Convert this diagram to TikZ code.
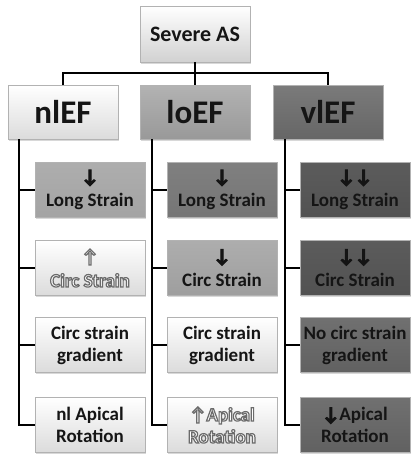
\documentclass[tikz,border=0pt]{standalone}
\usepackage{fontspec}
\setmainfont{Carlito}[BoldFont={Carlito Bold}]
\usetikzlibrary{shadows}
\definecolor{txtc}{HTML}{151515}
\newcommand\outl[1]{\special{pdf:literal direct 2 Tr 1.2 w 0.42 0.42 0.42 RG}#1\special{pdf:literal direct 0 Tr}}
\newcommand\thick[1]{\special{pdf:literal direct 2 Tr 0.9 w 0.08 0.08 0.08 RG}#1\special{pdf:literal direct 0 Tr}}
\newcommand\arr[1]{{\fontsize{19}{19}\selectfont\thick{#1}}\\[2pt]}
\newcommand\arro[1]{{\fontsize{19}{19}\selectfont\outl{#1}}\\[2pt]}
\begin{document}
\begin{tikzpicture}[x=1pt,y=-1pt,
  box/.style={rectangle, minimum width=110pt, minimum height=55pt, inner sep=0pt,
    align=center, text=txtc, font=\bfseries\fontsize{19}{22}\selectfont,
    draw=black!30, line width=0.6pt,
    drop shadow={shadow xshift=1.2pt, shadow yshift=-1.6pt, opacity=0.3}},
  head/.style={box, minimum height=54pt, font=\bfseries\fontsize{33}{36}\selectfont},
  g/.style 2 args={top color=#1, bottom color=#2},
  conn/.style={draw=black, line width=1.5pt}]
\useasboundingbox[fill=white] (0,0) rectangle (416,463);

% top
\node[box, minimum height=56pt, font=\bfseries\fontsize{22}{24}\selectfont, g={white}{black!18}] (sev) at (195,34) {Severe AS};
\node[head, g={white}{black!14}] (nl) at (63,112) {nlEF};
\node[head, g={black!30}{black!40}] (lo) at (195,112) {loEF};
\node[head, g={black!52}{black!60}] (vl) at (328,112) {vlEF};

\coordinate (bar) at (195,73);
\draw[conn] (sev.south) -- (lo.north);
\draw[conn] (nl.north) |- (bar) -| (vl.north);

% column 1
\node[box, g={black!32}{black!36}] (a1) at (90,190) {\arr{↓}Long Strain};
\node[box, g={white}{black!14}, text=white] (a2) at (90,268) {\arro{↑}\outl{Circ Strain}};
\node[box, g={white}{black!14}] (a3) at (90,345) {Circ strain\\gradient};
\node[box, g={white}{black!14}] (a4) at (90,425) {nl Apical\\Rotation};

% column 2
\node[box, g={black!50}{black!54}] (b1) at (222,190) {\arr{↓}Long Strain};
\node[box, g={black!32}{black!38}] (b2) at (222,268) {\arr{↓}Circ Strain};
\node[box, g={white}{black!14}] (b3) at (222,345) {Circ strain\\gradient};
\node[box, g={white}{black!14}, text=white] (b4) at (222,425) {\outl{↑Apical}\\\outl{Rotation}};

% column 3
\node[box, g={black!64}{black!68}] (c1) at (355,190) {\arr{↓↓}Long Strain};
\node[box, g={black!64}{black!68}] (c2) at (355,268) {\arr{↓↓}Circ Strain};
\node[box, g={black!56}{black!62}] (c3) at (355,345) {No circ strain\\gradient};
\node[box, g={black!56}{black!62}] (c4) at (355,425) {\thick{↓}Apical\\Rotation};

% vertical spines
\coordinate (v1) at (19,0);
\coordinate (v2) at (152,0);
\coordinate (v3) at (285,0);
\draw[conn] (nl.south -| v1) |- (a4.west);
\draw[conn] (a1.west) -- (a1.west -| v1);
\draw[conn] (a2.west) -- (a2.west -| v1);
\draw[conn] (a3.west) -- (a3.west -| v1);
\draw[conn] (lo.south -| v2) |- (b4.west);
\draw[conn] (b1.west) -- (b1.west -| v2);
\draw[conn] (b2.west) -- (b2.west -| v2);
\draw[conn] (b3.west) -- (b3.west -| v2);
\draw[conn] (vl.south -| v3) |- (c4.west);
\draw[conn] (c1.west) -- (c1.west -| v3);
\draw[conn] (c2.west) -- (c2.west -| v3);
\draw[conn] (c3.west) -- (c3.west -| v3);
\end{tikzpicture}
\end{document}
